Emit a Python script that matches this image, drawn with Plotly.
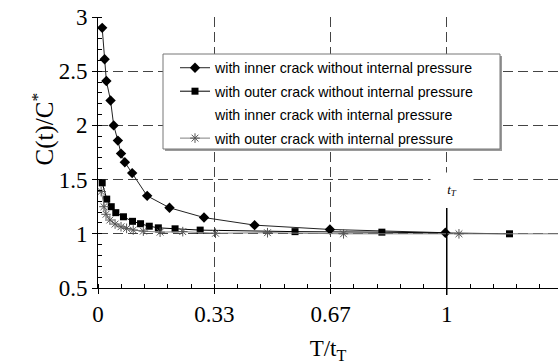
import plotly.graph_objects as go

# Series data (T/tT, C(t)/C*)
inner_nop_x = [0.012, 0.019, 0.024, 0.036, 0.045, 0.057, 0.066, 0.077, 0.098, 0.141, 0.205, 0.304, 0.449, 0.665, 0.996]
inner_nop_y = [2.90, 2.61, 2.41, 2.23, 2.00, 1.86, 1.74, 1.66, 1.56, 1.35, 1.24, 1.15, 1.08, 1.04, 1.01]

outer_nop_x = [0.012, 0.025, 0.038, 0.051, 0.073, 0.099, 0.122, 0.147, 0.173, 0.221, 0.293, 0.565, 0.814, 1.18]
outer_nop_y = [1.47, 1.32, 1.25, 1.195, 1.157, 1.115, 1.093, 1.07, 1.055, 1.046, 1.034, 1.02, 1.015, 1.0]

# not visible in the reference (drawn without line or marker)
inner_p_x = [0.01, 0.33, 0.67, 1.0]
inner_p_y = [1.0, 1.0, 1.0, 1.0]

outer_p_x = [0.009, 0.017, 0.023, 0.034, 0.049, 0.066, 0.082, 0.101, 0.13, 0.178, 0.243, 0.337, 0.486, 0.704, 1.035, 1.40]
outer_p_y = [1.39, 1.25, 1.18, 1.127, 1.09, 1.065, 1.05, 1.035, 1.025, 1.015, 1.02, 1.005, 1.01, 1.0, 1.0, 1.0]

names = [
    "with inner crack without internal pressure",
    "with outer crack without internal pressure",
    "with inner crack with internal pressure",
    "with outer crack with internal pressure",
]

x_tickvals = [0, 1/3, 2/3, 1]
x_ticktext = ["0", "0.33", "0.67", "1"]
y_tickvals = [0.5, 1, 1.5, 2, 2.5, 3]
y_ticktext = ["0.5", "1", "1.5", "2", "2.5", "3"]

fig = go.Figure()
fig.add_trace(go.Scatter(x=inner_nop_x, y=inner_nop_y, name=names[0], mode="lines+markers",
                         line=dict(color="#222", width=1), marker=dict(symbol="diamond", size=8, color="black"),
                         legendgroup="a"))
fig.add_trace(go.Scatter(x=outer_nop_x, y=outer_nop_y, name=names[1], mode="lines+markers",
                         line=dict(color="black", width=1), marker=dict(symbol="square", size=7, color="black"),
                         legendgroup="b"))
fig.add_trace(go.Scatter(x=inner_p_x, y=inner_p_y, name=names[2], mode="lines",
                         line=dict(color="rgba(255,255,255,0)", width=1), legendgroup="c", hoverinfo="skip"))
fig.add_trace(go.Scatter(x=outer_p_x, y=outer_p_y, name=names[3], mode="lines+markers",
                         line=dict(color="#808080", width=1),
                         marker=dict(symbol="asterisk-open", size=8, color="#555", line=dict(width=1, color="#555")),
                         legendgroup="d"))

PX_L, PX_R, PX_T, PX_B = 98, 558, 17, 288
W, H = PX_R - PX_L, PX_B - PX_T
def px(xp):
    return (xp - PX_L) / W
def py(yp):
    return (PX_B - yp) / H

# legend box with shadow
fig.add_shape(type="rect", xref="paper", yref="paper", x0=px(165), x1=px(502), y0=py(151), y1=py(56),
              fillcolor="#9a9a9a", line=dict(width=0), layer="above")
fig.add_shape(type="rect", xref="paper", yref="paper", x0=px(163), x1=px(500), y0=py(149), y1=py(54),
              fillcolor="white", line=dict(color="#777", width=1), layer="above")
# solid marker line at t_T
fig.add_shape(type="line", xref="x", yref="paper", x0=1, x1=1, y0=py(295), y1=py(208),
              line=dict(color="black", width=1.5), layer="above")

fig.add_annotation(x=1, y=1.40, xref="x", yref="y", text="<i>t</i><sub><i>T</i></sub>", showarrow=False,
                   font=dict(family="Liberation Serif", size=13, color="black"), bgcolor="white",
                   width=40, height=32, xshift=5)

# y-axis title
fig.add_annotation(x=px(24), y=py(129), xref="paper", yref="paper", text="C(t)/C<sup>*</sup>",
                   textangle=-90, showarrow=False,
                   font=dict(family="Liberation Serif", size=25, color="black"))

axis_common = dict(showline=True, linecolor="black", linewidth=1, ticks="outside", ticklen=5,
                   tickcolor="black", showgrid=True, gridcolor="#444", gridwidth=1, griddash="10px,5px",
                   zeroline=False, automargin=False,
                   tickfont=dict(family="Liberation Serif", size=23, color="black"))

fig.update_xaxes(range=[0, 1.319], tickvals=x_tickvals, ticktext=x_ticktext,
                 minor=dict(dtick=1/15, tick0=0, ticks="inside", ticklen=4, tickcolor="black", showgrid=False),
                 title=dict(text="T/t<sub>T</sub>", font=dict(family="Liberation Serif", size=23, color="black"), standoff=14),
                 **axis_common)
fig.update_yaxes(range=[0.5, 3], tickvals=y_tickvals, ticktext=y_ticktext,
                 minor=dict(dtick=0.1, tick0=0.5, ticks="inside", ticklen=4, tickcolor="black", showgrid=False),
                 **axis_common)

fig.update_layout(
    width=558, height=364,
    margin=dict(l=PX_L, r=558 - PX_R, t=PX_T, b=364 - PX_B),
    paper_bgcolor="white", plot_bgcolor="white",
    showlegend=True,
    legend=dict(x=px(175), y=py(52), xanchor="left", yanchor="top", bgcolor="rgba(0,0,0,0)",
                borderwidth=0, font=dict(family="Liberation Sans", size=14.2, color="black"),
                tracegroupgap=2, itemwidth=30),
)

fig.write_html("out.html", config={"displayModeBar": False},
               post_script="document.body.style.margin='0';document.body.style.padding='0';")
